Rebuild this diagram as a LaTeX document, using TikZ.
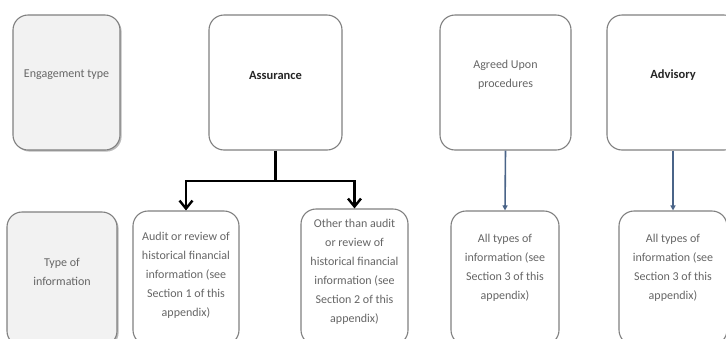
\documentclass[tikz,border=0pt]{standalone}
\usepackage{fontspec}
\setmainfont{Carlito}
\usetikzlibrary{arrows.meta,shadows}
\definecolor{boxline}{HTML}{808080}
\definecolor{txtgray}{HTML}{666666}
\definecolor{txtdark}{HTML}{262626}
\definecolor{greyfill}{HTML}{F2F2F2}
\definecolor{arrowblue}{HTML}{4A6488}
\tikzset{
  card/.style={draw=boxline, line width=1.1pt, rounded corners=15pt, fill=white, inner sep=0pt},
  headcard/.style={card, fill=greyfill, drop shadow={shadow xshift=1.6pt, shadow yshift=-1.6pt, opacity=0.45, fill=black!60}},
  lbl/.style={text=txtgray, font=\fontsize{12}{19}\selectfont, align=center, inner sep=0pt},
  boldlbl/.style={text=txtdark, font=\fontsize{12.5}{19}\selectfont\bfseries, align=center, inner sep=0pt},
  thickarrow/.style={line width=2.6pt, -{Straight Barb[length=8pt,width=13pt,line width=2.4pt]}},
  bluearrow/.style={draw=arrowblue, line width=1.6pt, -{Triangle[length=5pt,width=5pt]}, arrowblue},
}
\begin{document}
\begin{tikzpicture}[x=1pt,y=-1pt]
\useasboundingbox (0,0) rectangle (726,338);
\clip (0,0) rectangle (726,338);
% top row
\node[headcard, minimum width=107pt, minimum height=135pt] (eng) at (66.5,82.5) {};
\node[lbl] (engt) at (66.5,75) {Engagement type};
\node[card, minimum width=133pt, minimum height=135pt] (ass) at (275.5,82.5) {};
\node[boldlbl] (asst) at (275.5,75) {Assurance};
\node[card, minimum width=131pt, minimum height=135pt] (aup) at (505.5,82.5) {};
\node[lbl] (aupt) at (505.5,75) {Agreed Upon\\procedures};
\node[card, minimum width=132pt, minimum height=135pt] (adv) at (673,82.5) {};
\node[boldlbl] (advt) at (673,75) {Advisory};
% bottom row
\node[headcard, minimum width=110pt, minimum height=134pt] (toi) at (62,279) {};
\node[lbl] (toit) at (62,272) {Type of\\information};
\node[card, minimum width=106pt, minimum height=134pt] (aud) at (186,278) {};
\node[lbl] (audt) at (186,275) {Audit or review of\\historical financial\\information (see\\Section 1 of this\\appendix)};
\node[card, minimum width=107pt, minimum height=136pt] (oth) at (354.5,277) {};
\node[lbl] (otht) at (354.5,272) {Other than audit\\or review of\\historical financial\\information (see\\Section 2 of this\\appendix)};
\node[card, minimum width=108pt, minimum height=134pt] (all1) at (505,278) {};
\node[lbl] (all1t) at (505,268) {All types of\\information (see\\Section 3 of this\\appendix)};
\node[card, minimum width=108pt, minimum height=134pt] (all2) at (673,278) {};
\node[lbl] (all2t) at (673,268) {All types of\\information (see\\Section 3 of this\\appendix)};
% connectors
\coordinate (split) at (275.5,181);
\draw[line width=2.6pt] (ass.south) -- (split);
\draw[thickarrow] (split) -| (aud.north);
\draw[thickarrow] (split) -| (oth.north);
\draw[bluearrow] (aup.south) -- (all1.north);
\draw[bluearrow] (adv.south) -- (all2.north);
\end{tikzpicture}
\end{document}
